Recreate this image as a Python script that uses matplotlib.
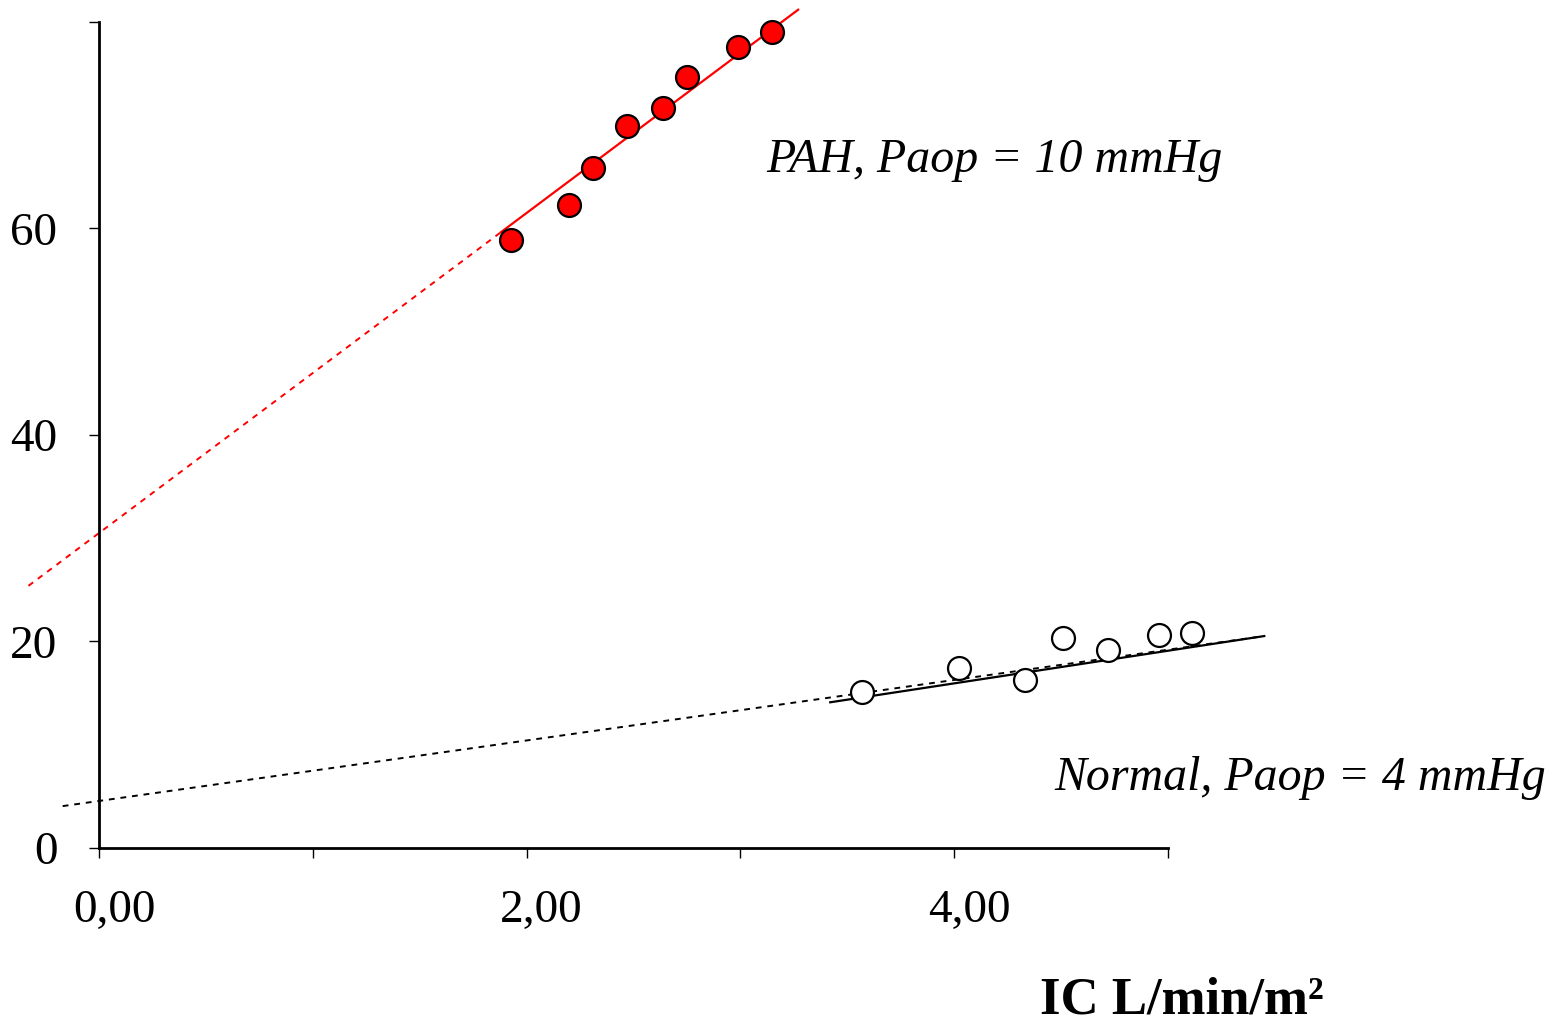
import numpy as np
import matplotlib
matplotlib.use("Agg")
import matplotlib.pyplot as plt
from matplotlib.transforms import ScaledTranslation

plt.rcParams['font.family'] = ['Liberation Serif', 'DejaVu Serif']

# PAH group (filled red)
pah_ic = [1.925, 2.20, 2.31, 2.47, 2.64, 2.75, 2.99, 3.15]
pah_p = [58.9, 62.3, 65.9, 69.9, 71.7, 74.7, 77.6, 79.0]
# normal group (open)
norm_ic = [3.57, 4.02, 4.33, 4.51, 4.72, 4.96, 5.11]
norm_p = [15.1, 17.4, 16.3, 20.3, 19.2, 20.6, 20.8]

# regression lines: intercept, slope, x range (solid part / dashed extrapolation)
pah_fit = (30.5, 15.5)
pah_solid_x = [1.88, 3.27]
pah_dash_x = [-0.33, 1.88]
norm_fit = (3.3, 3.16)
norm_solid_x = [3.42, 5.45]
norm_dash_fit = (4.55, 2.93)
norm_dash_x = [-0.17, 5.45]

xticks = [0, 1, 2, 3, 4, 5]
xtick_labels = ['0,00', '', '2,00', '', '4,00', '']
yticks = [0, 20, 40, 60, 80]
ytick_labels = ['0', '20', '40', '60', '']

fig = plt.figure(figsize=(15.52, 10.21), dpi=100)
ax = fig.add_axes([0.0638, 0.1695, 0.6888, 0.809])


def line(fit, xr):
    x = np.array(xr)
    return x, fit[0] + fit[1] * x


x, y = line(pah_fit, pah_dash_x)
ax.plot(x, y, color='red', lw=1.4, ls=(0, (3, 3)), clip_on=False)
x, y = line(pah_fit, pah_solid_x)
ax.plot(x, y, color='red', lw=1.6, clip_on=False)
x, y = line(norm_dash_fit, norm_dash_x)
ax.plot(x, y, color='black', lw=1.4, ls=(0, (3, 3)), clip_on=False)
x, y = line(norm_fit, norm_solid_x)
ax.plot(x, y, color='black', lw=1.6, clip_on=False)

ax.plot(pah_ic, pah_p, 'o', ms=16.5, mfc='red', mec='black', mew=1.6,
        clip_on=False, zorder=5)
ax.plot(norm_ic, norm_p, 'o', ms=16.5, mfc='white', mec='black', mew=1.6,
        clip_on=False, zorder=5)

ax.set_xlim(0, 5)
ax.set_ylim(0, 80)
for s in ['top', 'right']:
    ax.spines[s].set_visible(False)
for s in ['left', 'bottom']:
    ax.spines[s].set_linewidth(2)

ax.set_xticks(xticks)
ax.set_xticklabels(xtick_labels)
ax.set_yticks(yticks)
ax.set_yticklabels(ytick_labels)
ax.tick_params(axis='both', direction='out', length=7, width=1, labelsize=34)
ax.tick_params(axis='x', pad=23)
ax.tick_params(axis='y', pad=23)

off = ScaledTranslation(15 / 100, 0, fig.dpi_scale_trans)
for lbl in ax.get_xticklabels():
    lbl.set_transform(lbl.get_transform() + off)

ax.text(3.12, 65.5, 'PAH, Paop = 10 mmHg', fontsize=34.5, style='italic',
        va='baseline', ha='left', clip_on=False)
ax.text(4.47, 5.6, 'Normal, Paop = 4 mmHg', fontsize=34.5, style='italic',
        va='baseline', ha='left', clip_on=False)

fig.text(1040 / 1552, 1 - 1013 / 1021, 'IC L/min/m²', fontsize=38,
         fontweight='bold', va='baseline', ha='left')

fig.savefig('out.png', dpi=100, facecolor='white')
